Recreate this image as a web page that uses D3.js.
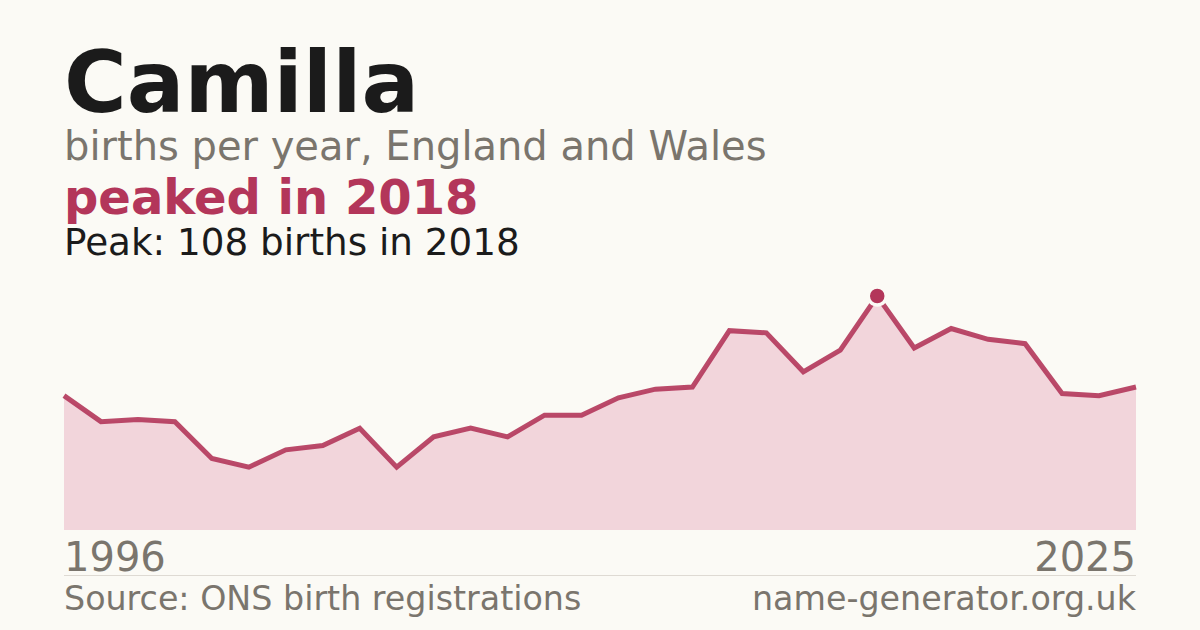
<!DOCTYPE html>
<html>
<head>
<meta charset="utf-8">
<script src="https://cdn.jsdelivr.net/npm/d3@7"></script>
<style>
  html, body { margin: 0; padding: 0; background: #fbfaf5; }
  svg { display: block; font-family: "DejaVu Sans", sans-serif; }
</style>
</head>
<body>
<div id="chart"></div>
<script>
// Births per year for the name
const years = d3.range(1996, 2026);
const births = [62, 50, 51, 50, 33, 29, 37, 39, 47, 29,
                43, 47, 43, 53, 53, 61, 65, 66, 92, 91,
                73, 83, 108, 84, 93, 88, 86, 63, 62, 66];
const xTickLabels = ["1996", "2025"];

const width = 1200, height = 630;
const left = 64, right = 1136;
const plotTop = 296, plotBottom = 530;

const accent = "#b3365a";
const grey = "#7a756d";

const svg = d3.select("#chart")
  .append("svg")
  .attr("width", width)
  .attr("height", height)
  .attr("viewBox", `0 0 ${width} ${height}`);

svg.append("rect")
  .attr("width", width)
  .attr("height", height)
  .attr("fill", "#fbfaf5");

const data = years.map((y, i) => ({ year: y, value: births[i] }));

const x = d3.scaleLinear()
  .domain(d3.extent(years))
  .range([left, right]);

const y = d3.scaleLinear()
  .domain([0, d3.max(births)])
  .range([plotBottom, plotTop]);

// Header texts
svg.append("text")
  .attr("x", left).attr("y", 112)
  .style("font-size", "85.5px")
  .style("font-weight", "bold")
  .attr("fill", "#1b1b1b")
  .text("Camilla");

svg.append("text")
  .attr("x", left).attr("y", 160)
  .style("font-size", "40px")
  .attr("fill", grey)
  .text("births per year, England and Wales");

svg.append("text")
  .attr("x", left).attr("y", 214)
  .style("font-size", "48px")
  .style("font-weight", "bold")
  .attr("fill", accent)
  .text("peaked in 2018");

const peak = data.reduce((a, b) => (b.value > a.value ? b : a));

svg.append("text")
  .attr("x", left).attr("y", 255)
  .style("font-size", "37.3px")
  .attr("fill", "#1b1b1b")
  .text(`Peak: ${peak.value} births in ${peak.year}`);

// Area and line
const area = d3.area()
  .x(d => x(d.year))
  .y0(plotBottom)
  .y1(d => y(d.value));

const line = d3.line()
  .x(d => x(d.year))
  .y(d => y(d.value));

svg.append("path")
  .datum(data)
  .attr("d", area)
  .attr("fill", "#f2d5db");

svg.append("path")
  .datum(data)
  .attr("d", line)
  .attr("fill", "none")
  .attr("stroke", accent)
  .attr("stroke-opacity", 0.9)
  .attr("stroke-width", 5);

// Peak marker
svg.append("circle")
  .attr("cx", x(peak.year))
  .attr("cy", y(peak.value))
  .attr("r", 9)
  .attr("fill", accent)
  .attr("stroke", "#fbfaf5")
  .attr("stroke-width", 3.5);

// Axis end labels
svg.append("text")
  .attr("x", left).attr("y", 571)
  .style("font-size", "40px")
  .attr("fill", grey)
  .text(xTickLabels[0]);

svg.append("text")
  .attr("x", right).attr("y", 571)
  .attr("text-anchor", "end")
  .style("font-size", "40px")
  .attr("fill", grey)
  .text(xTickLabels[1]);

// Divider and footer
svg.append("line")
  .attr("x1", left).attr("x2", right)
  .attr("y1", 575.5).attr("y2", 575.5)
  .attr("stroke", "#dedad3")
  .attr("stroke-width", 1);

svg.append("text")
  .attr("x", left).attr("y", 610)
  .style("font-size", "33.3px")
  .attr("fill", grey)
  .text("Source: ONS birth registrations");

svg.append("text")
  .attr("x", right).attr("y", 610)
  .attr("text-anchor", "end")
  .style("font-size", "33.3px")
  .attr("fill", grey)
  .text("name-generator.org.uk");
</script>
</body>
</html>
